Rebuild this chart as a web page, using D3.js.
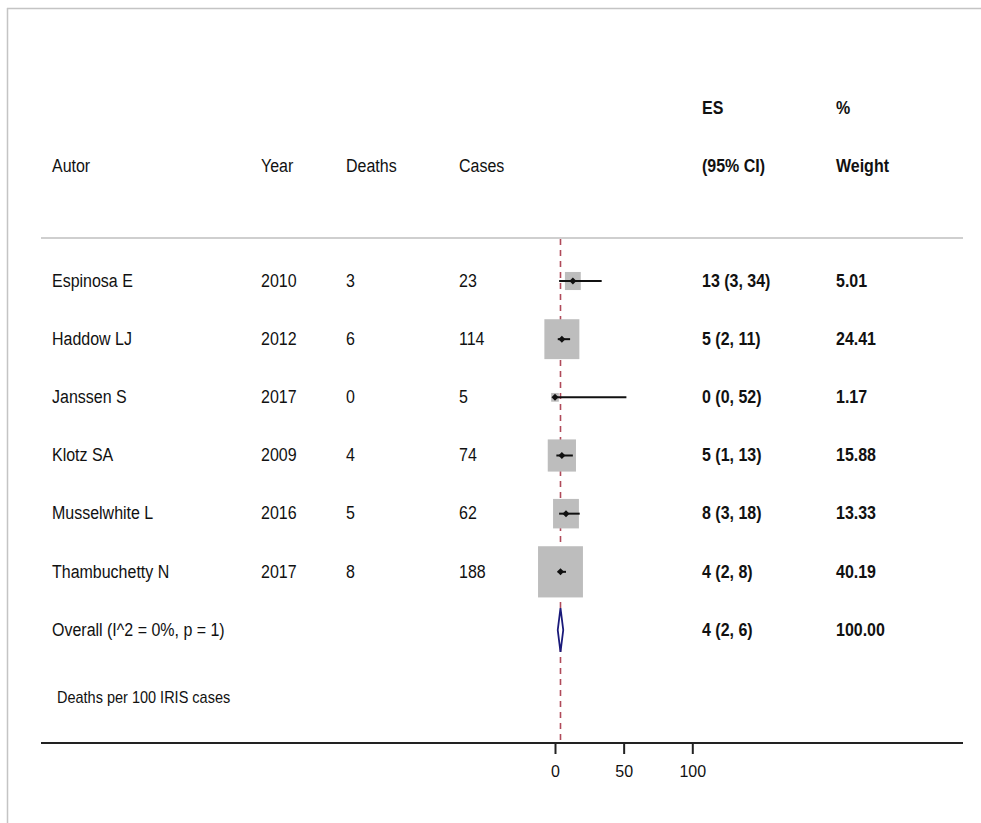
<!DOCTYPE html>
<html>
<head>
<meta charset="utf-8">
<script src="https://cdn.jsdelivr.net/npm/d3@7"></script>
<style>
  html, body { margin: 0; padding: 0; background: #fff; }
  svg { display: block; font-family: "Liberation Sans", Arial, sans-serif; }
</style>
</head>
<body>
<svg id="chart" width="981" height="823"></svg>
<script>
// Study-level data for the forest plot
const authors = ["Espinosa E", "Haddow LJ", "Janssen S", "Klotz SA", "Musselwhite L", "Thambuchetty N"];
const years = ["2010", "2012", "2017", "2009", "2016", "2017"];
const deaths = [3, 6, 0, 4, 5, 8];
const cases = [23, 114, 5, 74, 62, 188];
const es = [13, 5, 0, 5, 8, 4];
const ciLow = [3, 2, 0, 1, 3, 2];
const ciHigh = [34, 11, 52, 13, 18, 8];
const weights = [5.01, 24.41, 1.17, 15.88, 13.33, 40.19];

// Pooled estimate
const overallLabel = "Overall  (I^2 = 0%, p = 1)";
const overallEs = 4, overallLow = 2, overallHigh = 6, overallWeight = 100.00;

const axisTicks = [0, 50, 100];
const noteText = "Deaths per 100 IRIS cases";

const svg = d3.select("#chart");
const W = 981, H = 823;

// Outer frame
svg.append("line").attr("x1", 7).attr("x2", W).attr("y1", 8.5).attr("y2", 8.5)
  .attr("stroke", "#c4c4c4").attr("stroke-width", 1.5);
svg.append("line").attr("x1", 7.5).attr("x2", 7.5).attr("y1", 8).attr("y2", H)
  .attr("stroke", "#c4c4c4").attr("stroke-width", 1.5);

// Scales
const x = d3.scaleLinear().domain([0, 100]).range([555, 692.3]);
const rowY = d3.scaleLinear().domain([0, 6]).range([281, 630]);
const boxW = d3.scaleSqrt().domain([0, 24.41]).range([0, 35]);
const aspect = 1.14;

const cols = { author: 52, year: 261, deaths: 346, cases: 459, es: 702, weight: 836 };
const fs = 16;
const stretchY = 1.1;

function txt(str, xx, yy, opts = {}) {
  return svg.append("text")
    .attr("transform", `translate(${xx},${yy}) scale(1,${stretchY})`)
    .attr("dominant-baseline", "central")
    .attr("font-size", opts.size || fs)
    .attr("font-weight", opts.bold ? "bold" : "normal")
    .attr("fill", "#111")
    .text(str);
}

// Column headings
txt("Autor", cols.author, 166);
txt("Year", cols.year, 166);
txt("Deaths", cols.deaths, 166);
txt("Cases", cols.cases, 166);
txt("ES", cols.es, 108, { bold: true });
txt("(95% CI)", cols.es, 166, { bold: true });
txt("%", cols.weight, 108, { bold: true });
txt("Weight", cols.weight, 166, { bold: true });

// Header rule
svg.append("line").attr("x1", 41).attr("x2", 963).attr("y1", 238).attr("y2", 238)
  .attr("stroke", "#cfcfcf").attr("stroke-width", 2);

// Line of the pooled estimate
svg.append("line")
  .attr("x1", x(overallEs)).attr("x2", x(overallEs))
  .attr("y1", 239).attr("y2", 742)
  .attr("stroke", "#b04a5a").attr("stroke-width", 1.6)
  .attr("stroke-dasharray", "6,5");

// Study rows
authors.forEach((a, i) => {
  const y = rowY(i);
  txt(a, cols.author, y);
  txt(years[i], cols.year, y);
  txt(String(deaths[i]), cols.deaths, y);
  txt(String(cases[i]), cols.cases, y);
  txt(`${es[i]} (${ciLow[i]}, ${ciHigh[i]})`, cols.es, y, { bold: true });
  txt(weights[i].toFixed(2), cols.weight, y, { bold: true });
});

const g = svg.append("g");
// Weight boxes
g.selectAll("rect.box").data(authors).join("rect")
  .attr("class", "box")
  .attr("x", (d, i) => x(es[i]) - boxW(weights[i]) / 2)
  .attr("y", (d, i) => rowY(i) - boxW(weights[i]) * aspect / 2)
  .attr("width", (d, i) => boxW(weights[i]))
  .attr("height", (d, i) => boxW(weights[i]) * aspect)
  .attr("fill", "#bdbdbd");

// Confidence intervals
g.selectAll("line.ci").data(authors).join("line")
  .attr("class", "ci")
  .attr("x1", (d, i) => x(ciLow[i])).attr("x2", (d, i) => x(ciHigh[i]))
  .attr("y1", (d, i) => rowY(i)).attr("y2", (d, i) => rowY(i))
  .attr("stroke", "#111").attr("stroke-width", 2);

// Point estimates
g.selectAll("path.pt").data(authors).join("path")
  .attr("class", "pt")
  .attr("d", (d, i) => {
    const cx = x(es[i]), cy = rowY(i), r = 3.5;
    return `M${cx},${cy - r}L${cx + r},${cy}L${cx},${cy + r}L${cx - r},${cy}Z`;
  })
  .attr("fill", "#111");

// Pooled row
const oy = rowY(6);
txt(overallLabel, cols.author, oy);
txt(`${overallEs} (${overallLow}, ${overallHigh})`, cols.es, oy, { bold: true });
txt(overallWeight.toFixed(2), cols.weight, oy, { bold: true });
const dh = 22;
svg.append("path")
  .attr("d", `M${x(overallLow)},${oy}L${x(overallEs)},${oy - dh}L${x(overallHigh)},${oy}L${x(overallEs)},${oy + dh}Z`)
  .attr("fill", "#fff").attr("stroke", "#1a1a7a").attr("stroke-width", 1.8);

// Note
txt(noteText, 57, 697, { size: 14.5 });

// Axis
const axisY = 743;
svg.append("line").attr("x1", 41).attr("x2", 963).attr("y1", axisY).attr("y2", axisY)
  .attr("stroke", "#222").attr("stroke-width", 2);
const axis = svg.append("g").attr("transform", `translate(0,${axisY})`)
  .call(d3.axisBottom(x).tickValues(axisTicks).tickSize(11).tickPadding(12).tickFormat(d3.format("d")));
axis.select(".domain").remove();
axis.selectAll(".tick line").attr("stroke", "#222").attr("stroke-width", 2);
axis.selectAll(".tick text").attr("font-size", fs).attr("fill", "#111")
  .attr("font-family", "Liberation Sans, Arial, sans-serif");
</script>
</body>
</html>
